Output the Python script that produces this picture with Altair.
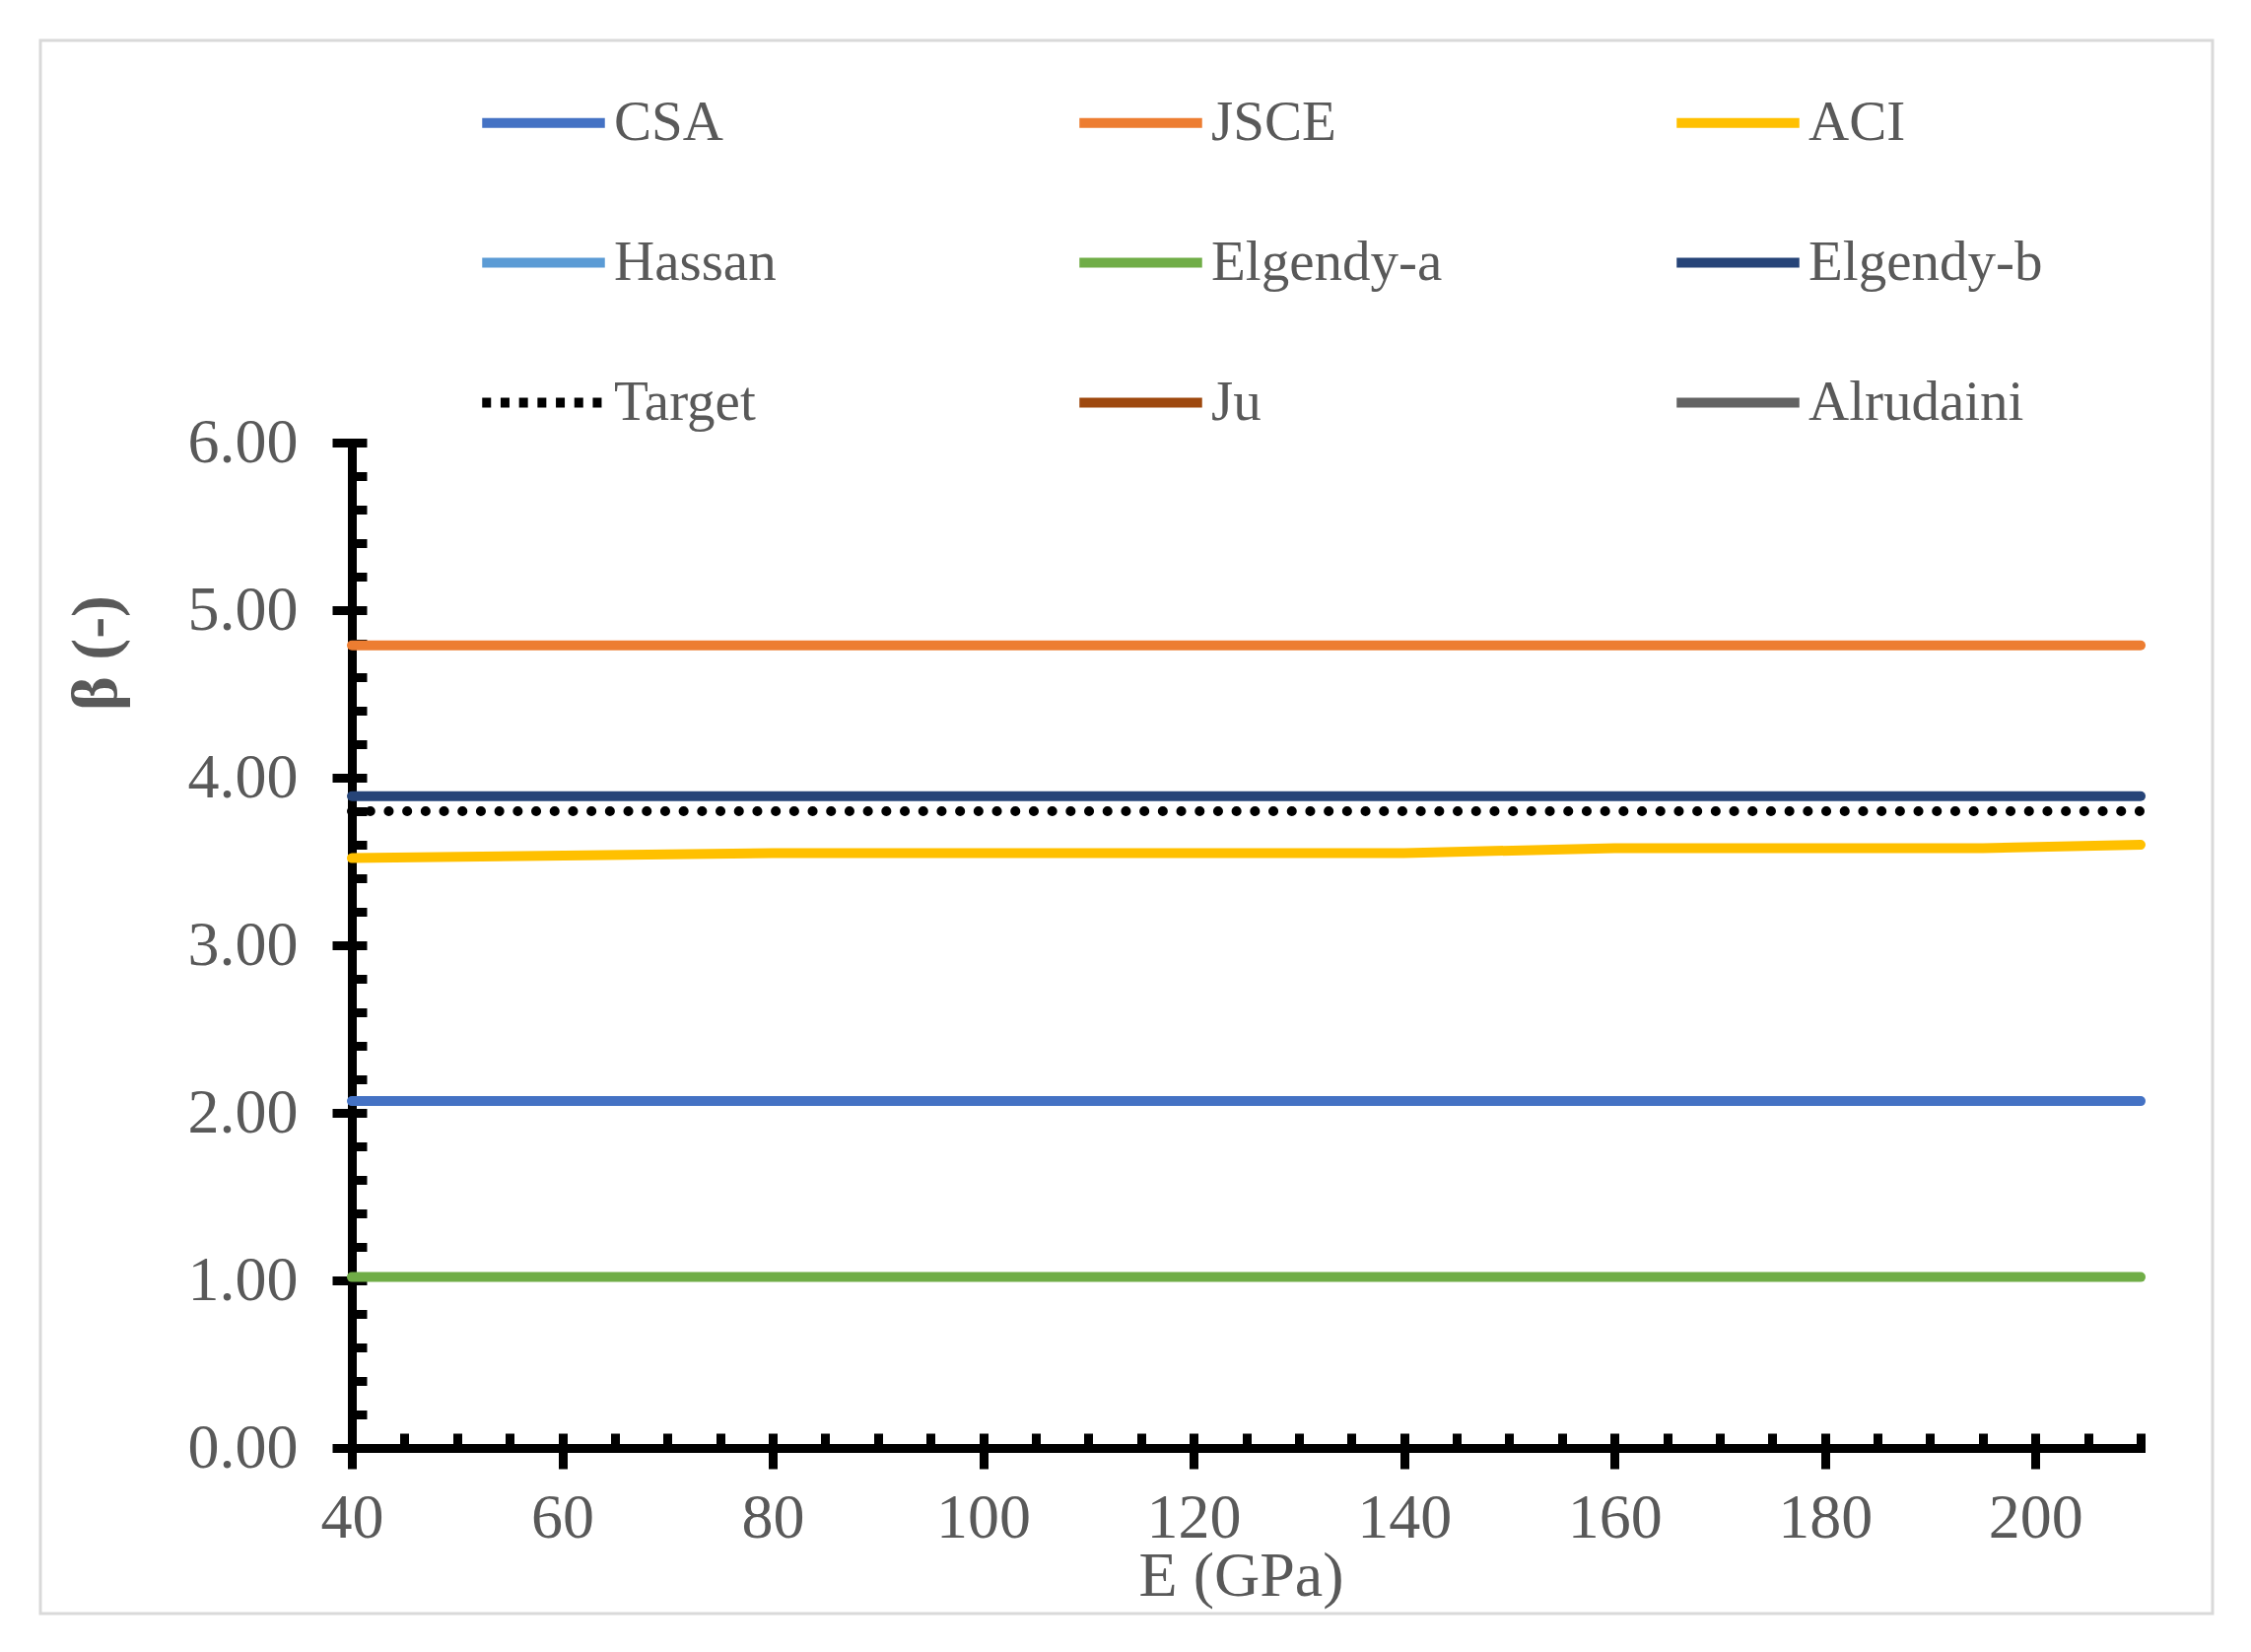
import altair as alt
import pandas as pd

# -----------------------------
# Data
# -----------------------------
E_GPA = [40, 80, 140, 160, 195, 210]

CSA = [2.07, 2.07, 2.07, 2.07, 2.07, 2.07]
JSCE = [4.79, 4.79, 4.79, 4.79, 4.79, 4.79]
ACI = [3.52, 3.55, 3.55, 3.58, 3.58, 3.60]
ELGENDY_A = [1.02, 1.02, 1.02, 1.02, 1.02, 1.02]
ELGENDY_B = [3.89, 3.89, 3.89, 3.89, 3.89, 3.89]
TARGET = [3.80, 3.80, 3.80, 3.80, 3.80, 3.80]

SERIES = ["CSA", "JSCE", "ACI", "Hassan", "Elgendy-a", "Elgendy-b", "Target", "Ju", "Alrudaini"]
COLORS = ["#4472C4", "#ED7D31", "#FFC000", "#5B9BD5", "#70AD47", "#264478", "#000000", "#9E480E", "#636363"]

X_MAJOR = [40, 60, 80, 100, 120, 140, 160, 180, 200]
X_MINOR = list(range(40, 211, 5))
Y_MAJOR = [0, 1, 2, 3, 4, 5, 6]
Y_MINOR = [round(0.2 * i, 1) for i in range(31)]

plotted = {
    "CSA": CSA,
    "JSCE": JSCE,
    "ACI": ACI,
    "Elgendy-a": ELGENDY_A,
    "Elgendy-b": ELGENDY_B,
    "Target": TARGET,
}
rows = []
for name, vals in plotted.items():
    for e, b in zip(E_GPA, vals):
        rows.append({"series": name, "E": e, "beta": b})
df = pd.DataFrame(rows)

FONT = "Liberation Serif"
GREY = "#595959"
W, H = 1815, 1020

x_scale = alt.Scale(domain=[40, 210], nice=False, zero=False)
y_scale = alt.Scale(domain=[0, 6], nice=False)

# -----------------------------
# Solid lines with major axes + legend
# -----------------------------
lines = (
    alt.Chart(df)
    .transform_filter(alt.datum.series != "Target")
    .mark_line(strokeWidth=10, strokeCap="round")
    .encode(
        x=alt.X(
            "E:Q",
            scale=x_scale,
            title="E (GPa)",
            axis=alt.Axis(
                values=X_MAJOR,
                grid=False,
                domainColor="black",
                domainWidth=9,
                domainCap="square",
                tickColor="black",
                tickWidth=9,
                tickSize=21,
                labelFont=FONT,
                labelFontSize=64,
                labelColor=GREY,
                labelPadding=18,
                labelFlush=False,
                titleFont=FONT,
                titleFontSize=64,
                titleFontWeight="normal",
                titleColor=GREY,
                titleX=902,
                titleY=149,
                titleBaseline="alphabetic",
                titleAlign="center",
            ),
        ),
        y=alt.Y(
            "beta:Q",
            scale=y_scale,
            title="β (-)",
            axis=alt.Axis(
                values=Y_MAJOR,
                format=".2f",
                grid=False,
                domainColor="black",
                domainWidth=9,
                domainCap="square",
                tickColor="black",
                tickWidth=9,
                tickSize=20,
                labelFont=FONT,
                labelFontSize=64,
                labelColor=GREY,
                labelPadding=35,
                labelFlush=False,
                titleFont=FONT,
                titleFontSize=66,
                titleFontWeight="bold",
                titleColor=GREY,
                titleX=-260,
                titleY=213,
                titleAngle=270,
                titleAlign="center",
                titleBaseline="middle",
            ),
        ),
        color=alt.Color(
            "series:N",
            title=None,
            scale=alt.Scale(domain=SERIES, range=COLORS),
            legend=alt.Legend(
                orient="none",
                direction="horizontal",
                legendX=127,
                legendY=-392,
                columns=3,
                gridAlign="all",
                columnPadding=214,
                rowPadding=46,
                padding=0,
                symbolType="stroke",
                symbolSize=15500,
                symbolStrokeWidth=10,
                symbolDash={"expr": "datum.value == 'Target' ? [9, 9.7] : [1, 0]"},
                labelFont=FONT,
                labelFontSize=57,
                labelColor=GREY,
                labelOffset=4,
                labelLimit=600,
            ),
        ),
    )
)

# dotted target line
target = (
    alt.Chart(df)
    .transform_filter(alt.datum.series == "Target")
    .mark_line(strokeWidth=10, strokeCap="round", strokeDash=[0.1, 18.6], color="black")
    .encode(
        x=alt.X("E:Q", scale=x_scale, axis=None),
        y=alt.Y("beta:Q", scale=y_scale, axis=None),
    )
)

# -----------------------------
# Minor ticks pointing into the plot
# -----------------------------
minor = (
    alt.Chart(df)
    .mark_point(opacity=0)
    .encode(
        x=alt.X(
            "E:Q",
            scale=x_scale,
            title=None,
            axis=alt.Axis(
                orient="top",
                offset=-H,
                values=X_MINOR,
                labels=False,
                domain=False,
                grid=False,
                tickColor="black",
                tickWidth=9,
                tickSize=15,
            ),
        ),
        y=alt.Y(
            "beta:Q",
            scale=y_scale,
            title=None,
            axis=alt.Axis(
                orient="right",
                offset=-W,
                values=Y_MINOR,
                labels=False,
                domain=False,
                grid=False,
                tickColor="black",
                tickWidth=9,
                tickSize=15,
            ),
        ),
    )
)

# light grey frame around the whole figure
frame = (
    alt.Chart(pd.DataFrame({"k": [0]}))
    .mark_rect(filled=False, stroke="#d9d9d9", strokeWidth=3)
    .encode(
        x=alt.value(-316),
        x2=alt.value(1888),
        y=alt.value(-408),
        y2=alt.value(1188),
    )
)

chart = (
    alt.layer(frame, lines, minor, target)
    .resolve_axis(x="independent", y="independent")
    .properties(
        width=W,
        height=H,
        autosize=alt.AutoSizeParams(type="none"),
        padding={"left": 349, "top": 441, "right": 100, "bottom": 190},
        background="white",
    )
    .configure_view(stroke=None)
)

chart.save("out.html", embed_options={"renderer": "svg", "actions": False})
